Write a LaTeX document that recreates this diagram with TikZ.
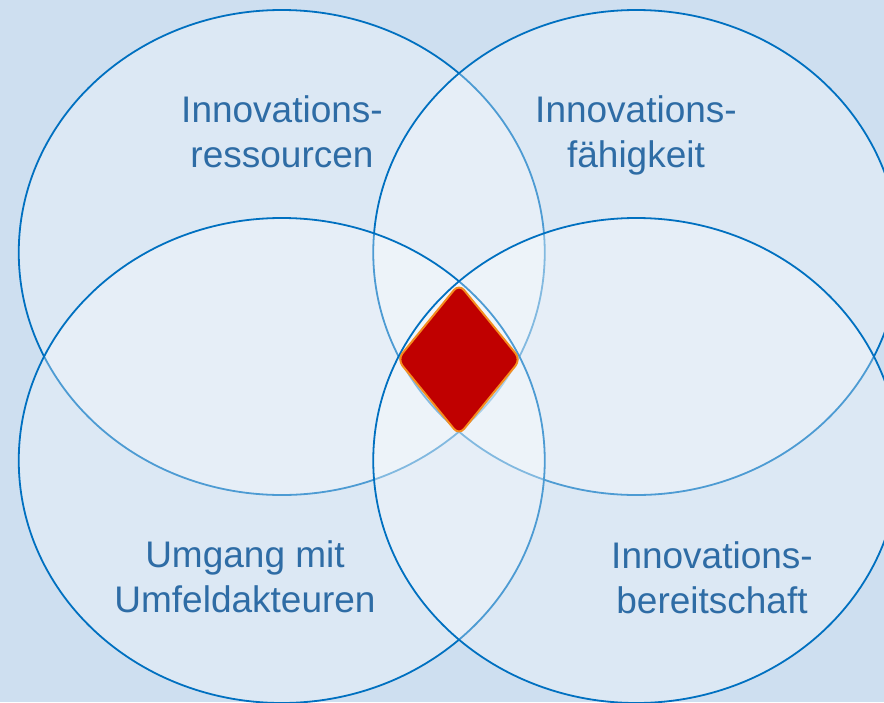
\documentclass[tikz,border=0pt]{standalone}
\usepackage{fontspec}
\setmainfont{Liberation Sans}
\usetikzlibrary{shapes.geometric}
\definecolor{bgblue}{RGB}{206,223,240}
\definecolor{ringblue}{RGB}{0,112,192}
\definecolor{textblue}{RGB}{46,108,165}
\definecolor{kernred}{RGB}{192,0,0}
\definecolor{kernorange}{RGB}{245,140,30}

\begin{document}
\begin{tikzpicture}[x=1pt,y=-1pt]

  \useasboundingbox (0,0) rectangle (884,702);
  \clip (0,0) rectangle (884,702);
  \fill[bgblue] (0,0) rectangle (884,702);

  \begin{scope}[every node/.style={ellipse,draw=ringblue,line width=1.8pt,fill=white,fill opacity=0.3,draw opacity=1,minimum width=526pt,minimum height=485pt,inner sep=0pt}]
    \node (ress)   at (281.75,252.5) {};
    \node (faeh)   at (636.25,252.5) {};
    \node (umf)    at (281.75,460.5) {};
    \node (bereit) at (636.25,460.5) {};
  \end{scope}

  \node[diamond,draw=kernorange,line width=2pt,fill=kernred,rounded corners=8pt,minimum width=124pt,minimum height=152pt,inner sep=0pt] (kern) at (459,359.5) {};

  % base = baseline of the last line
  \begin{scope}[every node/.style={align=center,anchor=base,text=textblue,font=\fontsize{37}{44.5}\selectfont,inner sep=0pt}]
    \node (ress-txt)   at (282,167) {Innovations-\\ressourcen};
    \node (faeh-txt)   at (636,167) {Innovations-\\fähigkeit};
    \node (umf-txt)    at (245,612) {Umgang mit\\Umfeldakteuren};
    \node (bereit-txt) at (712,613) {Innovations-\\bereitschaft};
  \end{scope}

\end{tikzpicture}
\end{document}
